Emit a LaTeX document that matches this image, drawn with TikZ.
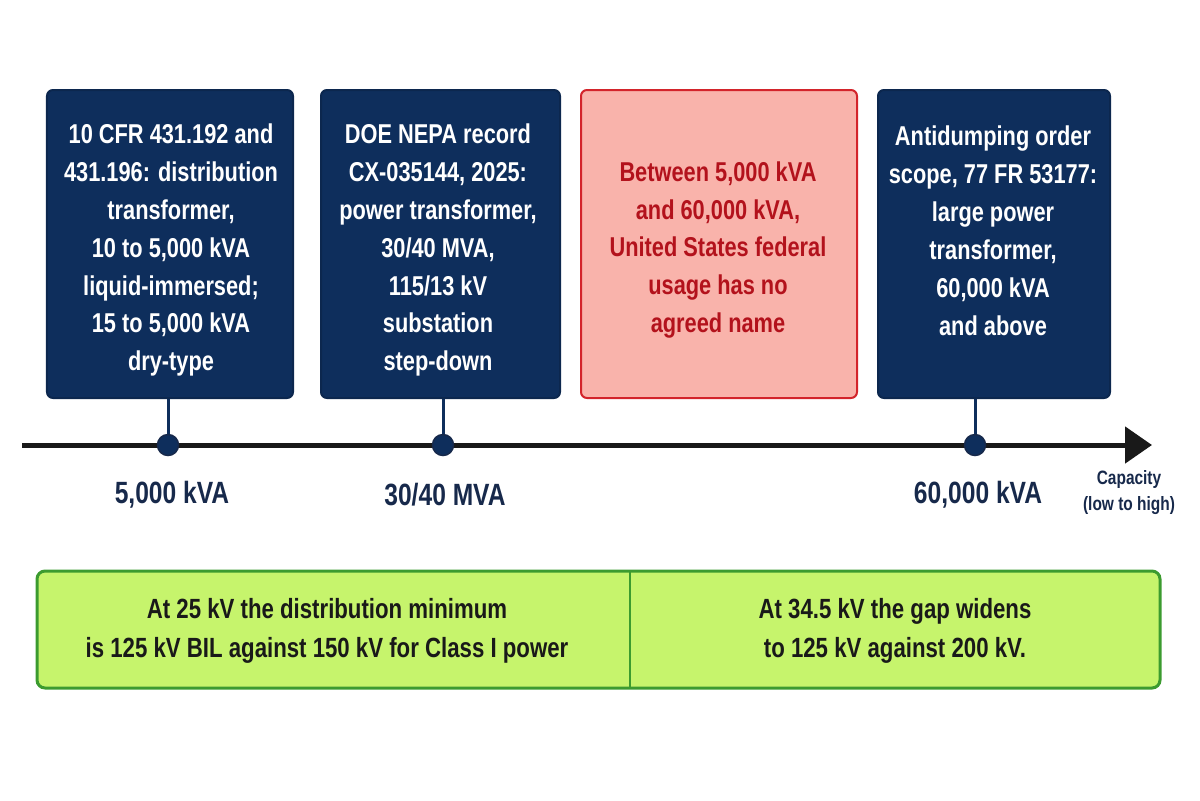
\documentclass[tikz,border=0pt]{standalone}
\usepackage{fontspec}
\setmainfont{Liberation Sans}[FakeStretch=0.8]
\usepackage{tikz}
\usetikzlibrary{arrows.meta}
\usetikzlibrary{calc}

\definecolor{navy}{HTML}{0E2E5C}
\definecolor{ink}{HTML}{17294B}
\definecolor{rosefill}{HTML}{F9B3AB}
\definecolor{roseline}{HTML}{D3242B}
\definecolor{rosetext}{HTML}{B3121C}
\definecolor{limefill}{HTML}{C6F46C}
\definecolor{limeline}{HTML}{3C9B2F}

\begin{document}
\begin{tikzpicture}[x=0.2mm, y=-0.2mm,
		every node/.style={font=\bfseries\fontsize{15.5}{21.6}\selectfont, align=center},
		card/.style={rounded corners=1.2mm, minimum height=61.6mm, inner sep=0pt, line width=0.4mm},
		navycard/.style={card, fill=navy, draw=navy!85!black},
		rosecard/.style={card, fill=rosefill, draw=roseline},
		tick/.style={circle, minimum size=4.2mm, inner sep=0pt, fill=navy, draw=ink, line width=0.3mm},
		stem/.style={draw=navy, line width=0.6mm},
		scale label/.style={text=ink, font=\bfseries\fontsize{17.5}{22}\selectfont}]
		\useasboundingbox (0,0) rectangle (1200,800);
		% cards above the axis
		\node[navycard, minimum width=49.2mm] (cfr) at (170,244) {};
		\node[navycard, minimum width=47.8mm] (doe) at (440.5,244) {};
		\node[rosecard, minimum width=55.2mm] (gap) at (719,244) {};
		\node[navycard, minimum width=46.4mm] (add) at (994,244) {};
		\node[text=white] (cfrtext) at (171,250) {10 CFR 431.192 and\\431.196: distribution\\transformer,\\10 to 5,000 kVA\\liquid-immersed;\\15 to 5,000 kVA\\dry-type};
		\node[text=white] (doetext) at (438,250) {DOE NEPA record\\CX-035144, 2025:\\power transformer,\\30/40 MVA,\\115/13 kV\\substation\\step-down};
		\node[text=rosetext] (gaptext) at (718,250) {Between 5,000 kVA\\and 60,000 kVA,\\United States federal\\usage has no\\agreed name};
		\node[text=white] (addtext) at (993,231) {Antidumping order\\scope, 77 FR 53177:\\large power\\transformer,\\60,000 kVA\\and above};
		% axis
		\coordinate (low) at (22,445);
		\coordinate (high) at (1152,445);
		\draw[line width=1mm, color=black!90, -{Triangle[length=5.4mm, width=7.2mm]}] (low) -- (high);
		\node[tick] (d1) at (168,445) {};
		\node[tick] (d2) at (443,445) {};
		\node[tick] (d4) at (975,445) {};
		\draw[stem] (cfr.south -| d1) -- (d1);
		\draw[stem] (doe.south -| d2) -- (d2);
		\draw[stem] (add.south -| d4) -- (d4);
		\node[scale label] (l1) at (172,495) {5,000 kVA};
		\node[scale label] (l2) at (445,495) {30/40 MVA};
		\node[scale label] (l4) at (978,495) {60,000 kVA};
		\node[text=ink, font=\bfseries\fontsize{11}{14.8}\selectfont] (cap) at (1129,493) {Capacity\\(low to high)};
		% BIL bar
		\draw[fill=limefill, draw=limeline, line width=0.6mm, rounded corners=1.6mm] (37,571) rectangle (1160,688);
		\draw[draw=limeline, line width=0.5mm] (630,571) -- (630,688);
		\node[text=black!90, font=\bfseries\fontsize{15.8}{22.2}\selectfont] (bil25) at (327,630.5) {At 25 kV the distribution minimum\\is 125 kV BIL against 150 kV for Class I power};
		\node[text=black!90, font=\bfseries\fontsize{15.8}{22.2}\selectfont] (bil34) at (895,630.5) {At 34.5 kV the gap widens\\to 125 kV against 200 kV.};
	\end{tikzpicture}
\end{document}
